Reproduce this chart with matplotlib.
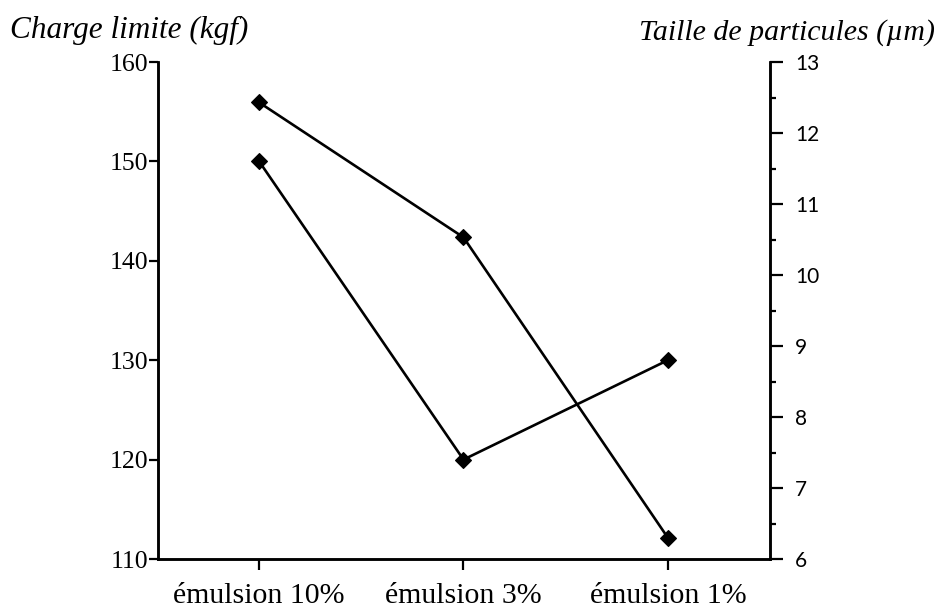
import matplotlib
matplotlib.use("Agg")
import matplotlib.pyplot as plt
from matplotlib.ticker import MultipleLocator

# Data
categories = ["émulsion 10%", "émulsion 3%", "émulsion 1%"]
charge_limite = [150, 120, 130]          # kgf, left axis
taille_particules = [12.43, 10.53, 6.30]  # µm, right axis

left_ticks = [110, 120, 130, 140, 150, 160]
right_ticks = [6, 7, 8, 9, 10, 11, 12, 13]

serif = ["Liberation Serif", "DejaVu Serif"]

fig = plt.figure(figsize=(9.39, 6.16), dpi=100)
ax = fig.add_axes([158 / 939, 1 - 559 / 616, (770 - 158) / 939, (559 - 62) / 616])
ax2 = ax.twinx()

x = list(range(len(categories)))
ax.plot(x, charge_limite, color="black", lw=1.9, marker="D", ms=8,
        markeredgewidth=0.8, zorder=3, clip_on=False)
ax2.plot(x, taille_particules, color="black", lw=1.9, marker="D", ms=8,
         markeredgewidth=0.8, zorder=3, clip_on=False)

ax.set_xlim(-0.495, 2.5)
ax.set_ylim(110, 160)
ax2.set_ylim(6, 13)

# Left axis
ax.set_yticks(left_ticks)
ax.set_yticklabels([str(v) for v in left_ticks], fontfamily=serif, fontsize=18.5)
ax.tick_params(axis="y", direction="out", length=6.5, width=1.6, pad=0.5)

# Bottom axis
ax.set_xticks(x)
ax.set_xticklabels(categories, fontfamily=serif, fontsize=21.5)
ax.tick_params(axis="x", direction="out", length=8, width=1.6, pad=9)

# Right axis
ax2.set_yticks(right_ticks)
ax2.set_yticklabels([str(v) for v in right_ticks], fontfamily=["Lato", "DejaVu Sans"],
                    fontweight="normal", fontsize=15)
ax2.yaxis.set_minor_locator(MultipleLocator(0.5))
ax2.tick_params(axis="y", which="major", direction="out", length=9, width=1.6, pad=9)
ax2.tick_params(axis="y", which="minor", direction="out", length=4.3, width=1.6)

for a in (ax, ax2):
    a.spines["top"].set_visible(False)
    for s in ("left", "right", "bottom"):
        a.spines[s].set_linewidth(1.8)

# Axis titles
fig.text(10 / 939, 1 - 30 / 616, "Charge limite (kgf)", fontfamily=serif,
         style="italic", fontsize=22.5, ha="left", va="center")
fig.text(935 / 939, 1 - 33 / 616, "Taille de particules (µm)", fontfamily=serif,
         style="italic", fontsize=21.5, ha="right", va="center")

fig.savefig("out.png", dpi=100)
